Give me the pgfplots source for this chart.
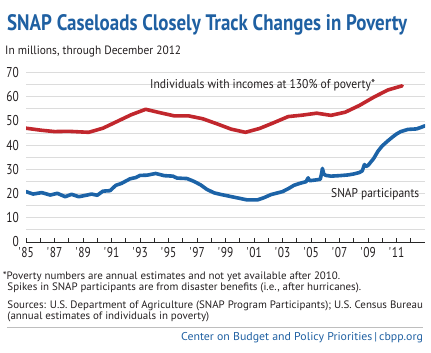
\documentclass[border=0pt]{standalone}
\usepackage{fontspec}
\usepackage{pgfplots}
\pgfplotsset{compat=1.18}
\setmainfont{PT Sans}
\newfontfamily\condfont{PT Sans}[FakeStretch=0.8]
\definecolor{titleblue}{RGB}{31,96,162}
\definecolor{snapred}{RGB}{193,39,45}
\definecolor{snapblue}{RGB}{28,99,167}
\definecolor{gridgray}{RGB}{220,220,220}
\definecolor{axisgray}{RGB}{40,40,40}
\definecolor{textcol}{RGB}{35,31,32}
\definecolor{rulegray}{RGB}{190,190,190}
\begin{document}
\begin{tikzpicture}[x=1bp,y=1bp]
\useasboundingbox (0,0) rectangle (431,353);
\begin{axis}[
  at={(26bp,111bp)}, anchor=south west,
  scale only axis, width=399bp, height=169.5bp,
  xmin=1985, xmax=2013, ymin=0, ymax=70,
  axis lines*=left,
  axis line style={-},
  y axis line style={draw=none},
  x axis line style={draw=axisgray, line width=0.9bp},
  xtick={1985,...,2012},
  xticklabels={\textquotesingle 85,,\textquotesingle 87,,\textquotesingle 89,,\textquotesingle 91,,\textquotesingle 93,,\textquotesingle 95,,\textquotesingle 97,,\textquotesingle 99,,\textquotesingle 01,,\textquotesingle 03,,\textquotesingle 05,,\textquotesingle 07,,\textquotesingle 09,,\textquotesingle 11,},
  ytick={0,10,...,70},
  minor ytick={5,15,...,65},
  ymajorgrids, yminorgrids,
  major grid style={draw=gridgray, line width=0.8bp},
  minor grid style={draw=gridgray, line width=0.8bp},
  tick align=inside,
  major tick length=4bp,
  minor tick length=0pt,
  xtick style={draw=axisgray, line width=0.8bp},
  ytick style={draw=none},
  /pgf/number format/assume math mode=true,
  tick label style={font=\condfont\fontsize{14.3}{15}\selectfont, text=textcol},
  xticklabel style={inner sep=0pt, anchor=north, yshift=-5.5bp},
  yticklabel style={inner sep=0pt, anchor=east, xshift=-7bp},
]
\addplot[draw=snapred, line width=3.6bp, line join=round, line cap=round] coordinates {
(1985.0,47.0) (1986.0,46.2) (1987.0,45.6) (1988.0,45.7) (1989.4,45.3)
(1990.4,47.0) (1991.4,49.8) (1992.4,52.6) (1993.4,54.8) (1994.4,53.4)
(1995.4,52.1) (1996.4,52.1) (1997.4,50.9) (1998.4,48.8) (1999.4,46.6)
(2000.4,45.3) (2001.4,46.9) (2002.4,49.3) (2003.4,51.8) (2004.4,52.4)
(2005.4,53.2) (2006.4,52.3) (2007.4,53.6) (2008.4,56.4) (2009.4,59.8)
(2010.4,62.8) (2011.4,64.5)
};
\addplot[draw=snapblue, line width=3.6bp, line join=round, line cap=round] coordinates {
(1985.0,20.8) (1985.5,19.8) (1986.1,20.4) (1986.7,19.4) (1987.2,20.1)
(1987.75,18.7) (1988.2,19.7) (1988.7,18.7) (1989.3,19.4) (1989.6,19.8)
(1990.0,19.3) (1990.4,21.0) (1990.9,21.2) (1991.3,23.4) (1991.7,24.2)
(1992.3,26.1) (1992.7,26.6) (1993.0,27.5) (1993.5,27.6) (1994.1,28.3)
(1994.7,27.4) (1995.3,27.2) (1995.6,26.4) (1996.3,26.2) (1996.8,25.0)
(1997.25,23.6) (1997.7,21.7) (1998.2,20.3) (1998.7,19.6) (1999.2,19.0)
(1999.6,18.5) (2000.1,17.9) (2000.5,17.4) (2001.25,17.4) (2001.7,18.3)
(2002.2,19.6) (2002.6,20.2) (2003.0,20.8) (2003.4,22.0) (2003.8,23.4)
(2004.2,24.2) (2004.65,24.9) (2004.8,26.5) (2004.9,25.3) (2005.3,25.6)
(2005.65,25.9) (2005.75,28.5) (2005.8,30.4) (2005.9,28.0) (2006.05,27.5)
(2006.4,27.2) (2007.0,27.4) (2007.6,27.7) (2008.0,28.1) (2008.4,28.7)
(2008.6,29.4) (2008.75,32.0) (2008.85,31.2) (2009.0,31.6) (2009.4,34.5)
(2009.7,37.5) (2010.0,39.7) (2010.4,41.8) (2010.75,43.5) (2011.0,44.6)
(2011.3,45.6) (2011.8,46.5) (2012.4,46.7) (2012.7,47.3) (2013.0,48.0)
};
\end{axis}
% annotations
\node[anchor=base west, inner sep=0pt, text=textcol] at (150,264) {\resizebox{225bp}{\height}{\fontsize{12.8}{14}\selectfont Individuals with incomes at 130\% of poverty*}};
\node[anchor=base west, inner sep=0pt, text=textcol] at (331,155.7) {\resizebox{88bp}{\height}{\fontsize{12.8}{14}\selectfont SNAP participants}};
% title and subtitle
\node[anchor=base west, inner sep=0pt, text=titleblue] at (7,322.3) {\resizebox{400bp}{\height}{\bfseries\fontsize{22.5}{24}\selectfont SNAP Caseloads Closely Track Changes in Poverty}};
\node[anchor=base west, inner sep=0pt, text=textcol] at (5,298.5) {\resizebox{176bp}{\height}{\fontsize{12.1}{14}\selectfont In millions, through December 2012}};
% footnotes
\node[anchor=base west, inner sep=0pt, text=textcol] at (2.7,73.7) {\resizebox{337.3bp}{\height}{\fontsize{10.8}{12}\selectfont *Poverty numbers are annual estimates and not yet available after 2010.}};
\node[anchor=base west, inner sep=0pt, text=textcol] at (7.3,62.3) {\resizebox{353.7bp}{\height}{\fontsize{10.8}{12}\selectfont Spikes in SNAP participants are from disaster benefits (i.e., after hurricanes).}};
\node[anchor=base west, inner sep=0pt, text=textcol] at (7.3,44.7) {\resizebox{415.4bp}{\height}{\fontsize{10.8}{12}\selectfont Sources: U.S. Department of Agriculture (SNAP Program Participants); U.S. Census Bureau}};
\node[anchor=base west, inner sep=0pt, text=textcol] at (7.3,33.7) {\resizebox{201.7bp}{\height}{\fontsize{10.8}{12}\selectfont (annual estimates of individuals in poverty)}};
\draw[rulegray, line width=1.5bp] (7,25.3) -- (423,25.3);
\node[anchor=base west, inner sep=0pt, text=titleblue] at (181,12.3) {\resizebox{241.7bp}{\height}{\fontsize{11.4}{13}\selectfont Center on Budget and Policy Priorities\,|\,cbpp.org}};
\end{tikzpicture}
\end{document}
